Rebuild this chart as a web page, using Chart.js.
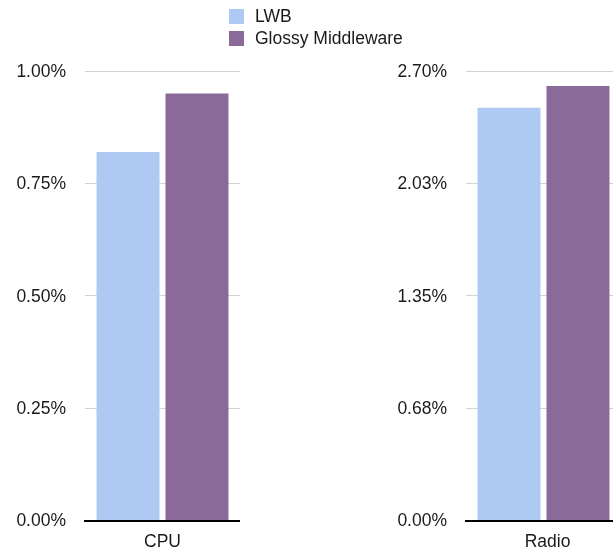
<!DOCTYPE html>
<html>
<head>
<meta charset="utf-8">
<script src="https://cdn.jsdelivr.net/npm/chart.js@4/dist/chart.umd.min.js"></script>
<style>
  html, body { margin: 0; padding: 0; background: #fff; overflow: hidden; }
  #stage { position: relative; width: 613px; height: 550px; overflow: hidden; }
  .panel { position: absolute; top: 0; height: 550px; }
  #legend { position: absolute; left: 229px; top: 9px; font-family: "Liberation Sans", Arial, sans-serif; font-size: 17.5px; color: #1a1a1a; }
  .item { display: flex; align-items: center; height: 15px; margin-bottom: 7px; }
  .swatch { width: 15px; height: 15px; margin-right: 11px; }
</style>
</head>
<body>
<div id="stage">
  <div class="panel" style="left:0;width:240px"><canvas id="cpuChart"></canvas></div>
  <div class="panel" style="left:381px;width:240px"><canvas id="radioChart"></canvas></div>
  <div id="legend"></div>
</div>
<script>
// Measurements per resource (percent of time)
const categories = ['CPU', 'Radio'];
const seriesNames = ['LWB', 'Glossy Middleware'];
const seriesColors = ['#AECAF2', '#8A6A99'];
const lwbValues = [0.82, 2.48];
const glossyValues = [0.95, 2.61];

// Axis ranges and tick labels for each panel
const axisMax = [1.0, 2.7];
const axisStep = [0.25, 0.675];
const cpuTicks = ['0.00%', '0.25%', '0.50%', '0.75%', '1.00%'];
const radioTicks = ['0.00%', '0.68%', '1.35%', '2.03%', '2.70%'];
const tickLabels = [cpuTicks, radioTicks];

const FONT = '"Liberation Sans", Arial, sans-serif';
// The right panel runs past the page edge, so its category label sits a bit right of the visible centre
const xLabelShift = [0, 4];

// Legend
const legend = document.getElementById('legend');
seriesNames.forEach((name, i) => {
  const row = document.createElement('div');
  row.className = 'item';
  const sw = document.createElement('span');
  sw.className = 'swatch';
  sw.style.background = seriesColors[i];
  const tx = document.createElement('span');
  tx.textContent = name;
  row.appendChild(sw);
  row.appendChild(tx);
  legend.appendChild(row);
});

function makePanel(canvasId, idx) {
  const series = [lwbValues, glossyValues];
  new Chart(document.getElementById(canvasId), {
    type: 'bar',
    data: {
      labels: [categories[idx]],
      datasets: seriesNames.map((name, s) => ({
        label: name,
        data: [series[s][idx]],
        backgroundColor: seriesColors[s],
        borderWidth: 0,
        categoryPercentage: 0.89,
        barPercentage: 0.913
      }))
    },
    options: {
      responsive: true,
      maintainAspectRatio: false,
      animation: false,
      layout: { padding: { top: 71, left: 0, right: 0, bottom: 0 } },
      plugins: { legend: { display: false }, tooltip: { enabled: false } },
      scales: {
        x: {
          grid: { display: false, drawTicks: false },
          border: { display: true, color: '#000', width: 2 },
          ticks: { color: '#1a1a1a', font: { family: FONT, size: 17.5 }, padding: 11, labelOffset: xLabelShift[idx] },
          afterFit: (scale) => { scale.height = 29; }
        },
        y: {
          min: 0,
          max: axisMax[idx],
          grid: { color: '#d2d2d2', lineWidth: 1, drawTicks: false },
          border: { display: false },
          ticks: {
            stepSize: axisStep[idx],
            color: '#1a1a1a',
            font: { family: FONT, size: 17.5 },
            padding: 19,
            labelOffset: 1,
            callback: (v, i) => tickLabels[idx][i]
          },
          afterFit: (scale) => { scale.width = 85; }
        }
      }
    }
  });
}

makePanel('cpuChart', 0);
makePanel('radioChart', 1);
</script>
</body>
</html>
